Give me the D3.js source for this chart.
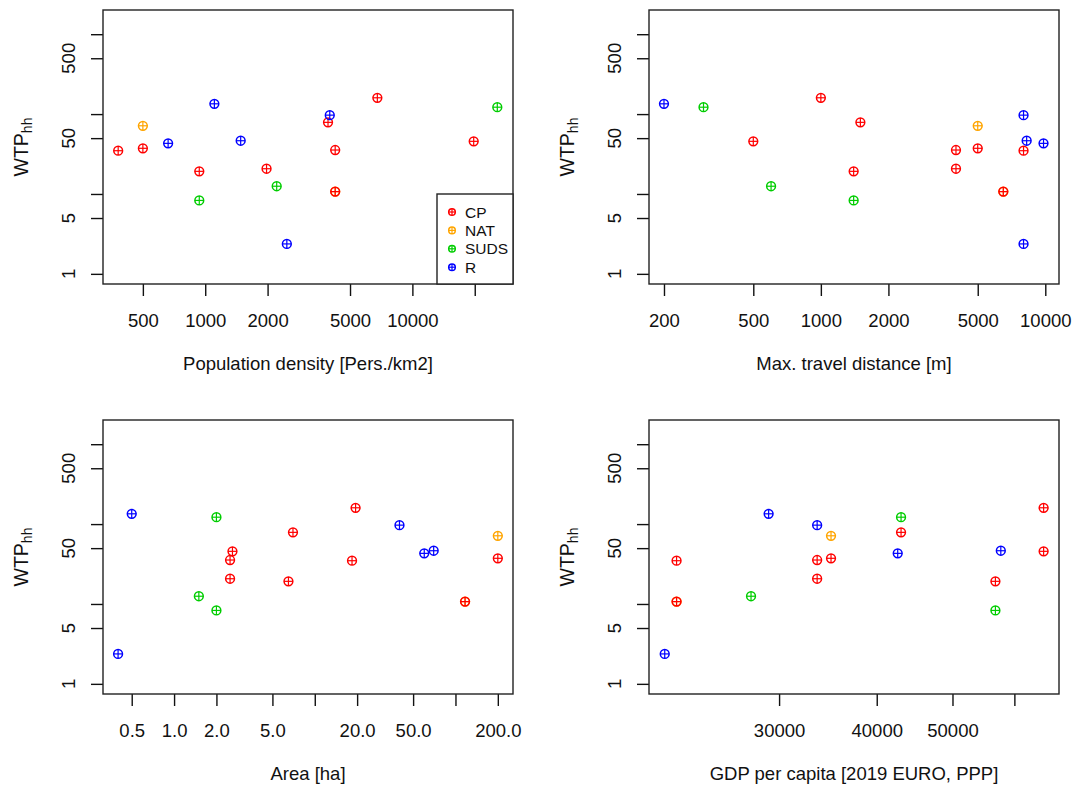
<!DOCTYPE html>
<html>
<head>
<meta charset="utf-8">
<script src="https://cdn.jsdelivr.net/npm/d3@7"></script>
<style>
  body { margin: 0; background: #fff; }
  text { font-family: "Liberation Sans", Arial, sans-serif; fill: #111; }
</style>
</head>
<body>
<svg id="drawing_region"></svg>
<script>
// one entry per study site, same order in every array
const category = ["NAT", "NAT", "CP", "CP", "CP", "CP", "CP", "CP", "CP", "CP", "CP",
                  "SUDS", "SUDS", "SUDS", "R", "R", "R", "R", "R"];
const density = [500, 4240, 380, 500, 936, 1977, 3915, 4240, 4240, 6775, 19770,
                 936, 2213, 25700, 662, 1107, 1483, 2477, 3992];
const travel = [5000, 6500, 8000, 5000, 1400, 4000, 1500, 4000, 6500, 1000, 500,
                1400, 600, 300, 9820, 200, 8260, 8000, 8000];
const area = [200, 117, 18.4, 200, 6.5, 2.5, 7, 2.5, 117, 19.5, 2.6,
              2.0, 1.5, 2.0, 60, 0.5, 70, 0.4, 40];
const gdp = [34960, 22180, 22180, 34960, 56740, 33560, 42970, 33560, 22180, 65400, 65400,
             56740, 27620, 42970, 42550, 29090, 57650, 21420, 33560];
const wtp = [71.4, 10.7, 34.8, 37.3, 19.2, 20.7, 78.8, 35.5, 10.7, 160, 45.6,
             8.3, 12.5, 122, 43, 134.5, 46.4, 2.37, 97];

const legend_keys = ["CP", "NAT", "SUDS", "R"];
const y_ticks = [1, 5, 10, 50, 100, 500, 1000];
const y_labels = ["1", "5", "", "50", "", "500", ""];

const colors = {CP: "#ff0000", NAT: "#ffa500", SUDS: "#00cd00", R: "#0000ff"};

const panels = [
    {x: density, left: 103, top: 10, domain: [321, 30600],
     ticks: [500, 1000, 2000, 5000, 10000, 20000],
     labels: ["500", "1000", "2000", "5000", "10000", ""],
     title: "Population density [Pers./km2]", legend: true},
    {x: travel, left: 649, top: 10, domain: [171.5, 11510],
     ticks: [200, 500, 1000, 2000, 5000, 10000],
     labels: ["200", "500", "1000", "2000", "5000", "10000"],
     title: "Max. travel distance [m]"},
    {x: area, left: 103, top: 420, domain: [0.3125, 256.4],
     ticks: [0.5, 1, 2, 5, 10, 20, 50, 100, 200],
     labels: ["0.5", "1.0", "2.0", "5.0", "", "20.0", "50.0", "", "200.0"],
     title: "Area [ha]"},
    {x: gdp, left: 649, top: 420, domain: [20450, 68430],
     ticks: [30000, 40000, 50000, 60000],
     labels: ["30000", "40000", "50000", ""],
     title: "GDP per capita [2019 EURO, PPP]"}
];

const width = 1074;
const height = 786;
const pw = 410, ph = 274;

const svg = d3.select('#drawing_region')
    .attr('width', width)
    .attr('height', height);

svg.append('rect').attr('width', width).attr('height', height).attr('fill', '#fff');

function marker(g, cx, cy, r, col) {
    g.append('circle')
        .attr('cx', cx).attr('cy', cy).attr('r', r)
        .attr('fill', 'none').attr('stroke', col).attr('stroke-width', 1.5);
    g.append('line')
        .attr('x1', cx - r).attr('x2', cx + r).attr('y1', cy).attr('y2', cy)
        .attr('stroke', col).attr('stroke-width', 1.2);
    g.append('line')
        .attr('x1', cx).attr('x2', cx).attr('y1', cy - r).attr('y2', cy + r)
        .attr('stroke', col).attr('stroke-width', 1.2);
}

panels.forEach(p => {
    const chart = svg.append('g')
        .attr('transform', `translate(${p.left}, ${p.top})`);

    const xscale = d3.scaleLog().domain(p.domain).range([0, pw]);
    // ylim c(1, 1500) plus R's 4% padding on the log scale
    const yscale = d3.scaleLog().domain([Math.pow(10, -0.127), Math.pow(10, 3.303)]).range([ph, 0]);

    const xaxis = d3.axisBottom(xscale)
        .tickValues(p.ticks)
        .tickFormat((d, i) => p.labels[i])
        .tickSize(12)
        .tickPadding(18);

    const yaxis = d3.axisLeft(yscale)
        .tickValues(y_ticks)
        .tickFormat('')
        .tickSize(12);

    const xg = chart.append('g')
        .attr('transform', `translate(0, ${ph})`)
        .call(xaxis);
    xg.selectAll('text').attr('font-size', 18.5).attr('fill', '#111');

    const yg = chart.append('g').call(yaxis);

    [xg, yg].forEach(g => {
        g.select('.domain').remove();
        g.selectAll('line').attr('stroke', '#111').attr('stroke-width', 1.4);
    });

    // rotated y tick labels like R's las = 0
    chart.selectAll('.ylab')
        .data(y_ticks)
        .enter().append('text')
        .attr('transform', d => `translate(-28, ${yscale(d)}) rotate(-90)`)
        .attr('text-anchor', 'middle')
        .attr('font-size', 18.5)
        .text((d, i) => y_labels[i]);

    // WTP with subscript hh
    const yt = chart.append('text')
        .attr('transform', `translate(-75, ${ph / 2}) rotate(-90)`)
        .attr('text-anchor', 'middle')
        .attr('font-size', 19.5);
    yt.append('tspan').text('WTP');
    yt.append('tspan').attr('font-size', 14).attr('dy', 4).text('hh');

    chart.append('text')
        .attr('x', pw / 2)
        .attr('y', ph + 86)
        .attr('text-anchor', 'middle')
        .attr('font-size', 18.5)
        .text(p.title);

    // points
    const pts = chart.append('g');
    p.x.forEach((xv, i) => {
        marker(pts, xscale(xv), yscale(wtp[i]), 4.4, colors[category[i]]);
    });

    chart.append('rect')
        .attr('width', pw).attr('height', ph)
        .attr('fill', 'none')
        .attr('stroke', '#222').attr('stroke-width', 1.4);

    if (p.legend) {
        const lw = 76, lh = 90;
        const lg = chart.append('g')
            .attr('transform', `translate(${pw - lw}, ${ph - lh})`);
        lg.append('rect')
            .attr('width', lw).attr('height', lh)
            .attr('fill', '#fff')
            .attr('stroke', '#222').attr('stroke-width', 1.4);
        legend_keys.forEach((k, i) => {
            const cy = 18 + i * 18.4;
            marker(lg, 15, cy, 3.3, colors[k]);
            lg.append('text')
                .attr('x', 28)
                .attr('y', cy + 5.5)
                .attr('font-size', 15.5)
                .text(k);
        });
    }
});
</script>
</body>
</html>
